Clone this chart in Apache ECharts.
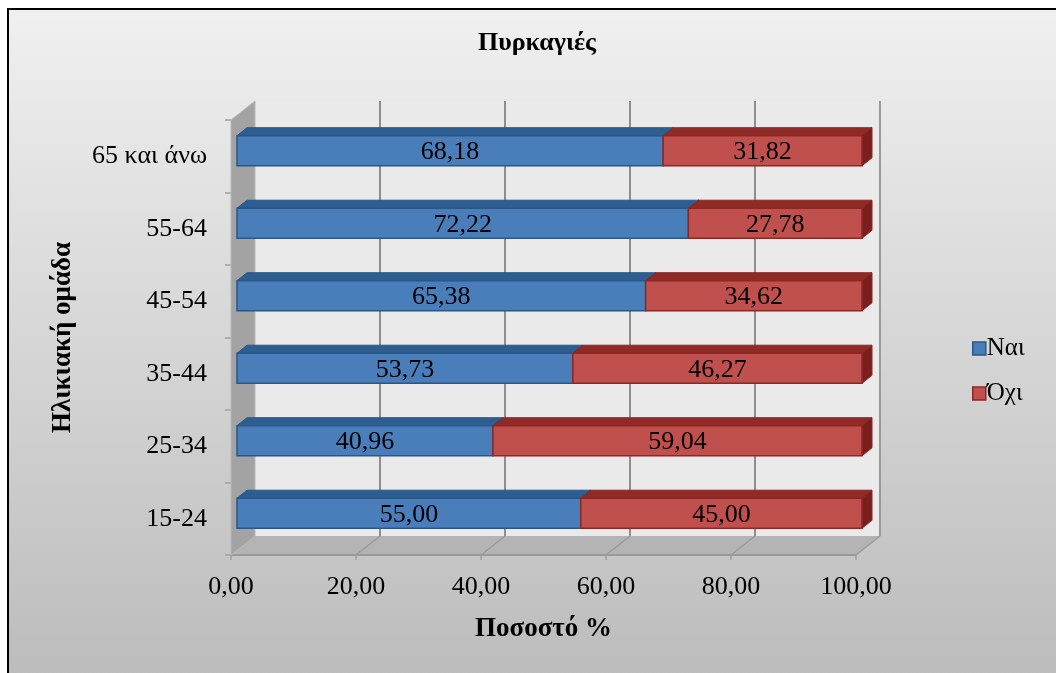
<!DOCTYPE html>
<html>
<head>
<meta charset="utf-8">
<script src="https://cdn.jsdelivr.net/npm/echarts@6/dist/echarts.min.js"></script>
<style>
html,body{margin:0;padding:0;background:#fff;}
#chart{width:1056px;height:673px;}
</style>
</head>
<body>
<div id="chart"></div>
<script>
const categories = ['15-24', '25-34', '35-44', '45-54', '55-64', '65 και άνω'];
const yesValues = [55.00, 40.96, 53.73, 65.38, 72.22, 68.18];
const noValues  = [45.00, 59.04, 46.27, 34.62, 27.78, 31.82];
const seriesNames = ['Ναι', 'Όχι'];
const xMin = 0, xMax = 100, xInterval = 20;

const FONT = "'Liberation Serif', 'Times New Roman', serif";
const DEPTH = {x: 24, y: -19};
const BAR = {dx: 10, dy: -8, shiftX: 6, shiftY: -5.5, ratio: 0.415};
const fmt = v => v.toFixed(2).replace('.', ',');

const yesData = yesValues.map((v, i) => [0, v, i, v]);
const noData = noValues.map((v, i) => [yesValues[i], yesValues[i] + v, i, v]);

const palettes = [
  {front: '#4a7ebb', top: '#2d5e91', side: '#24507d', border: '#2a5785'},
  {front: '#c0504d', top: '#8f2a27', side: '#7a1f1d', border: '#8c2724'}
];

function barRenderer(pal) {
  return function (params, api) {
    const s = api.value(0), e = api.value(1), c = api.value(2), val = api.value(3);
    const p0 = api.coord([s, c]), p1 = api.coord([e, c]);
    const bandH = api.size([0, 1])[1];
    const h = bandH * BAR.ratio;
    const x0 = p0[0] + BAR.shiftX, x1 = p1[0] + BAR.shiftX;
    const yc = p0[1] + BAR.shiftY;
    const yT = yc - h / 2, yB = yc + h / 2;
    const dx = BAR.dx, dy = BAR.dy;
    return {
      type: 'group',
      children: [
        {type: 'polygon', shape: {points: [[x0, yT], [x0 + dx, yT + dy], [x1 + dx, yT + dy], [x1, yT]]},
         style: {fill: pal.top, stroke: pal.border, lineWidth: 1}},
        {type: 'polygon', shape: {points: [[x1, yT], [x1 + dx, yT + dy], [x1 + dx, yB + dy], [x1, yB]]},
         style: {fill: pal.side, stroke: pal.border, lineWidth: 1}},
        {type: 'rect', shape: {x: x0, y: yT, width: x1 - x0, height: h},
         style: {fill: pal.front, stroke: pal.border, lineWidth: 1.5}},
        {type: 'text', style: {text: fmt(val), x: (x0 + x1) / 2, y: yc + 1.5, align: 'center', verticalAlign: 'middle',
          fontSize: 26, fontFamily: FONT, fill: '#000'}}
      ]
    };
  };
}

function wallsRenderer(params, api) {
  const cs = params.coordSys;
  const L = cs.x, R = cs.x + cs.width, T = cs.y, B = cs.y + cs.height;
  const dx = DEPTH.x, dy = DEPTH.y;
  const children = [];
  children.push({type: 'rect', shape: {x: L + dx, y: T + dy, width: R - L, height: B - T},
    style: {fill: '#eaeaea', stroke: null}});
  children.push({type: 'line', shape: {x1: R + dx, y1: T + dy, x2: R + dx, y2: B + dy},
    style: {stroke: '#9a9a9a', lineWidth: 2}});
  for (let v = xMin + xInterval; v < xMax; v += xInterval) {
    const px = api.coord([v, 0])[0];
    children.push({type: 'line', shape: {x1: px + dx, y1: T + dy, x2: px + dx, y2: B + dy},
      style: {stroke: '#8e8e8e', lineWidth: 2}});
  }
  children.push({type: 'polygon', shape: {points: [[L, B], [R, B], [R + dx, B + dy], [L + dx, B + dy]]},
    style: {fill: '#b4b4b4', stroke: null}});
  for (let v = xMin + xInterval; v <= xMax; v += xInterval) {
    const px = api.coord([v, 0])[0];
    children.push({type: 'line', shape: {x1: px, y1: B, x2: px + dx, y2: B + dy},
      style: {stroke: '#9a9a9a', lineWidth: 1.5}});
  }
  children.push({type: 'line', shape: {x1: L, y1: B, x2: R, y2: B},
    style: {stroke: '#9a9a9a', lineWidth: 2}});
  children.push({type: 'polygon', shape: {points: [[L, T], [L + dx, T + dy], [L + dx, B + dy], [L, B]]},
    style: {fill: '#a3a3a3', stroke: '#b8b8b8', lineWidth: 1}});
  return {type: 'group', children: children};
}

const chart = echarts.init(document.getElementById('chart'), null, {renderer: 'canvas'});
chart.setOption({
  animation: false,
  backgroundColor: '#ffffff',
  graphic: [{
    type: 'rect', z: -10, silent: true,
    shape: {x: 8, y: 9, width: 1070, height: 690},
    style: {
      fill: {type: 'linear', x: 0, y: 0, x2: 0, y2: 1, colorStops: [
        {offset: 0, color: '#f0f0f0'}, {offset: 1, color: '#bababa'}]},
      stroke: '#000', lineWidth: 2
    }
  }],
  title: {
    text: 'Πυρκαγιές', left: 537, top: 30, textAlign: 'center', padding: 0,
    textStyle: {fontFamily: FONT, fontSize: 26, fontWeight: 'bold', color: '#000'}
  },
  legend: {
    data: [
      {name: seriesNames[0], icon: 'rect', itemStyle: {color: palettes[0].front, borderColor: palettes[0].border, borderWidth: 1.5}},
      {name: seriesNames[1], icon: 'rect', itemStyle: {color: palettes[1].front, borderColor: palettes[1].border, borderWidth: 1.5}}
    ],
    orient: 'vertical', left: 972, top: 336, padding: 0, itemWidth: 13, itemHeight: 13, itemGap: 20,
    textStyle: {fontFamily: FONT, fontSize: 25, color: '#000', padding: [0, 0, 0, -4]},
    selectedMode: false
  },
  grid: {left: 231, right: 200, top: 120, bottom: 118, containLabel: false},
  xAxis: {
    type: 'value', min: xMin, max: xMax, interval: xInterval,
    name: 'Ποσοστό %', nameLocation: 'middle', nameGap: 61,
    nameTextStyle: {fontFamily: FONT, fontSize: 27, fontWeight: 'bold', color: '#000'},
    axisLine: {show: false},
    axisTick: {show: true, length: 5, lineStyle: {color: '#a0a0a0', width: 1.5}},
    splitLine: {show: false},
    axisLabel: {margin: 19, formatter: v => fmt(v), fontFamily: FONT, fontSize: 26, color: '#000'}
  },
  yAxis: {
    type: 'category', data: categories,
    name: 'Ηλικιακή ομάδα', nameLocation: 'middle', nameGap: 154, nameRotate: 90,
    nameTextStyle: {fontFamily: FONT, fontSize: 27, fontWeight: 'bold', color: '#000'},
    axisLine: {show: false},
    axisTick: {show: true, length: 6, lineStyle: {color: '#a0a0a0', width: 1.5}},
    axisLabel: {margin: 24, fontFamily: FONT, fontSize: 26, color: '#000', padding: [6, 0, 0, 0]}
  },
  series: [
    {type: 'custom', name: '__walls', renderItem: wallsRenderer, data: [[0, 0]], silent: true, z: 1,
     encode: {x: 0, y: 1}},
    {type: 'custom', name: seriesNames[0], renderItem: barRenderer(palettes[0]), data: yesData, z: 2,
     itemStyle: {color: palettes[0].front, borderColor: palettes[0].border},
     encode: {x: [0, 1], y: 2}},
    {type: 'custom', name: seriesNames[1], renderItem: barRenderer(palettes[1]), data: noData, z: 3,
     itemStyle: {color: palettes[1].front, borderColor: palettes[1].border},
     encode: {x: [0, 1], y: 2}}
  ]
});
</script>
</body>
</html>
